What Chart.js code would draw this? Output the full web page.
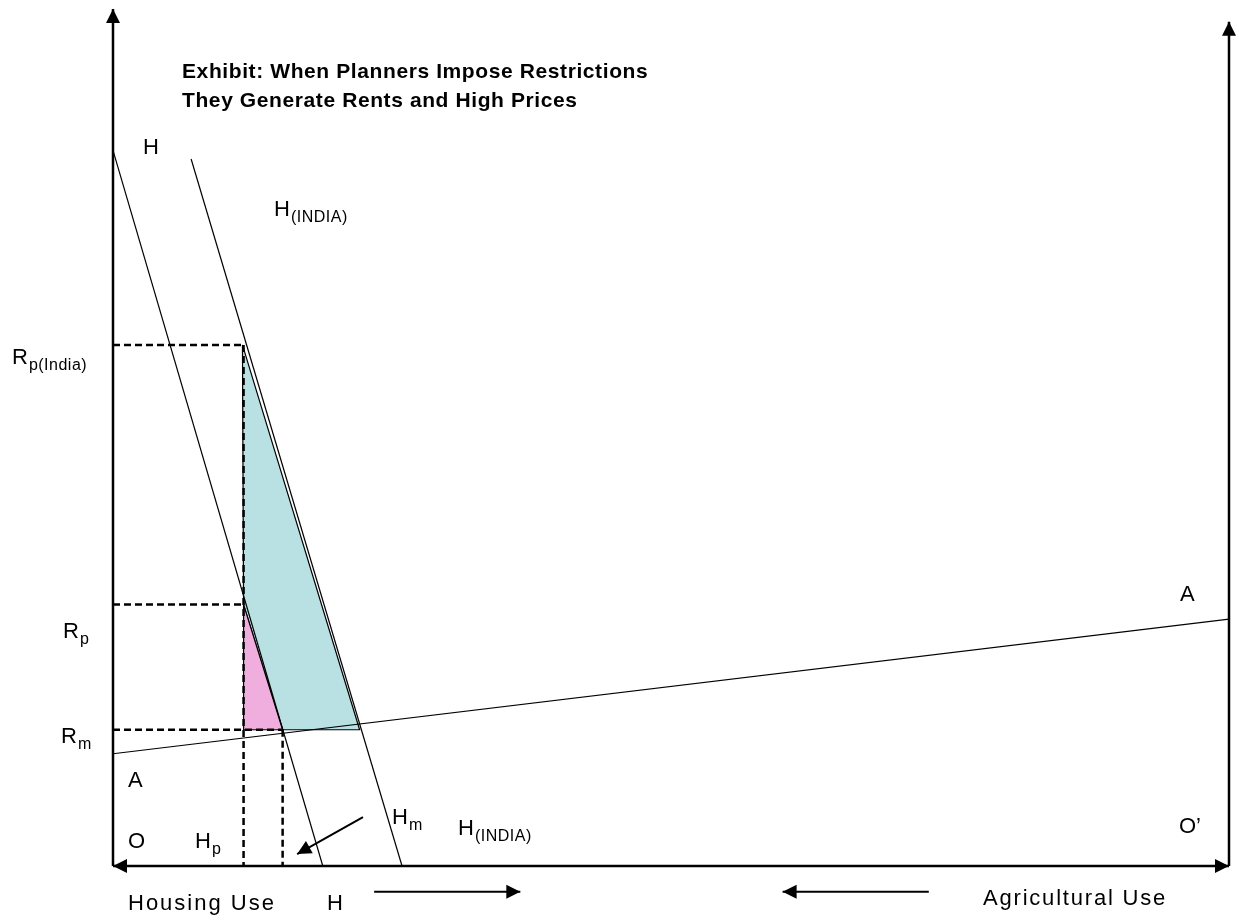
<!DOCTYPE html>
<html>
<head>
<meta charset="utf-8">
<script src="https://cdn.jsdelivr.net/npm/chart.js@4"></script>
<style>
  html, body { margin: 0; padding: 0; background: #fff; }
  canvas { display: block; }
</style>
</head>
<body>
<canvas id="landChart" width="1239" height="923"></canvas>
<script>
// land quantity runs 0..100 from O to O', rent 0..100 up the left axis
const rentLevels = [60.8, 30.5, 15.9];      // Rp(India), Rp, Rm
const quantities = [11.7, 15.2, 22.1];      // Hp, Hm, H(India) at Rm
const housingDemand = [{ x: 0, y: 83.5 }, { x: 18.8, y: 0 }];
const housingDemandIndia = [{ x: 7.0, y: 82.5 }, { x: 25.9, y: 0 }];
const agriDemand = [{ x: 0, y: 13.1 }, { x: 100, y: 28.8 }];
const leftAxis = [{ x: 0, y: 0 }, { x: 0, y: 100 }];
const rightAxis = [{ x: 100, y: 0 }, { x: 100, y: 98.5 }];
const bottomAxis = [{ x: 0, y: 0 }, { x: 100, y: 0 }];
const housingArrow = [{ x: 23.4, y: -3.0 }, { x: 36.5, y: -3.0 }];
const agriArrow = [{ x: 73.1, y: -3.0 }, { x: 60.0, y: -3.0 }];
const pointerArrow = [{ x: 22.4, y: 5.7 }, { x: 16.5, y: 1.4 }];

const [rpIndia, rp, rm] = rentLevels;
const [hp, hm, hIndia] = quantities;

function line(data, extra) {
    return Object.assign({
        data: data,
        borderColor: '#000',
        borderWidth: 1.2,
        pointRadius: 0,
        fill: false,
        tension: 0
    }, extra || {});
}

const dashed = { borderWidth: 2.5, borderDash: [7, 4] };
const axis = { borderWidth: 2.5 };

const datasets = [
    line(leftAxis, Object.assign({ arrowEnd: true }, axis)),
    line(rightAxis, Object.assign({ arrowEnd: true }, axis)),
    line(bottomAxis, Object.assign({ arrowEnd: true, arrowStart: true }, axis)),
    line(housingArrow, { borderWidth: 2, arrowEnd: true }),
    line(agriArrow, { borderWidth: 2, arrowEnd: true }),
    line(pointerArrow, { borderWidth: 2, arrowEnd: true }),
    line([{ x: 0, y: rpIndia }, { x: hp, y: rpIndia }], dashed),
    line([{ x: hp, y: rpIndia }, { x: hp, y: 0 }], dashed),
    line([{ x: 0, y: rp }, { x: hp, y: rp }], dashed),
    line([{ x: 0, y: rm }, { x: hm, y: rm }], dashed),
    line([{ x: hm, y: rm }, { x: hm, y: 0 }], dashed),
    line(housingDemand),
    line(housingDemandIndia),
    line(agriDemand),
    line([{ x: hp, y: rp }, { x: hm, y: rm }, { x: hp, y: rm }, { x: hp, y: rp }],
        { fill: 'shape', backgroundColor: '#f0aede', borderWidth: 1.2 }),
    line([{ x: hp - 0.1, y: rpIndia }, { x: hIndia, y: rm }, { x: hm, y: rm }, { x: hp, y: rp }, { x: hp - 0.1, y: rpIndia }],
        { fill: 'shape', backgroundColor: '#b9e0e3', borderWidth: 1.2 })
];

const texts = [
    { t: 'Exhibit: When Planners Impose Restrictions', x: 182, y: 78, bold: true, size: 21 },
    { t: 'They Generate Rents and High Prices', x: 182, y: 107, bold: true, size: 21 },
    { t: 'H', x: 143, y: 154 },
    { t: 'H', sub: '(INDIA)', x: 274, y: 216 },
    { t: 'R', sub: 'p(India)', x: 12, y: 364 },
    { t: 'R', sub: 'p', x: 63, y: 638 },
    { t: 'R', sub: 'm', x: 61, y: 743 },
    { t: 'A', x: 128, y: 787 },
    { t: 'O', x: 128, y: 848 },
    { t: 'H', sub: 'p', x: 195, y: 848 },
    { t: 'H', sub: 'm', x: 392, y: 824 },
    { t: 'H', sub: '(INDIA)', x: 458, y: 835 },
    { t: 'O\u2019', x: 1179, y: 833 },
    { t: 'A', x: 1180, y: 601 },
    { t: 'Housing Use', x: 128, y: 910, spacing: 2 },
    { t: 'H', x: 327, y: 910 },
    { t: 'Agricultural Use', x: 983, y: 905, spacing: 1.8 }
];

function arrowHead(ctx, from, to, len, half) {
    const a = Math.atan2(to.y - from.y, to.x - from.x);
    ctx.beginPath();
    ctx.moveTo(to.x, to.y);
    ctx.lineTo(to.x - len * Math.cos(a) + half * Math.sin(a), to.y - len * Math.sin(a) - half * Math.cos(a));
    ctx.lineTo(to.x - len * Math.cos(a) - half * Math.sin(a), to.y - len * Math.sin(a) + half * Math.cos(a));
    ctx.closePath();
    ctx.fill();
}

const decorations = {
    id: 'decorations',
    afterDatasetsDraw(chart) {
        const ctx = chart.ctx;
        ctx.save();
        ctx.fillStyle = '#000';
        chart.data.datasets.forEach((ds, i) => {
            const pts = chart.getDatasetMeta(i).data;
            if (ds.arrowEnd) arrowHead(ctx, pts[pts.length - 2], pts[pts.length - 1], 14, 7);
            if (ds.arrowStart) arrowHead(ctx, pts[1], pts[0], 14, 7);
        });
        ctx.textBaseline = 'alphabetic';
        texts.forEach(l => {
            const size = l.size || 22;
            ctx.font = (l.bold ? 'bold ' : '') + size + 'px "Liberation Sans", Arial, sans-serif';
            ctx.letterSpacing = (l.spacing || (l.bold ? 0.6 : 0)) + 'px';
            ctx.fillText(l.t, l.x, l.y);
            if (l.sub) {
                const w = ctx.measureText(l.t).width;
                ctx.font = '16px "Liberation Sans", Arial, sans-serif';
                ctx.letterSpacing = '0.5px';
                ctx.fillText(l.sub, l.x + w + 1, l.y + 6);
            }
        });
        ctx.restore();
    }
};

new Chart(document.getElementById('landChart').getContext('2d'), {
    type: 'line',
    data: { datasets: datasets },
    options: {
        responsive: false,
        animation: false,
        layout: { padding: 0 },
        plugins: { legend: { display: false }, tooltip: { enabled: false } },
        scales: {
            x: { type: 'linear', min: -10.125, max: 100.896, display: false },
            y: { type: 'linear', min: -6.651, max: 101.05, display: false }
        }
    },
    plugins: [decorations]
});
</script>
</body>
</html>
